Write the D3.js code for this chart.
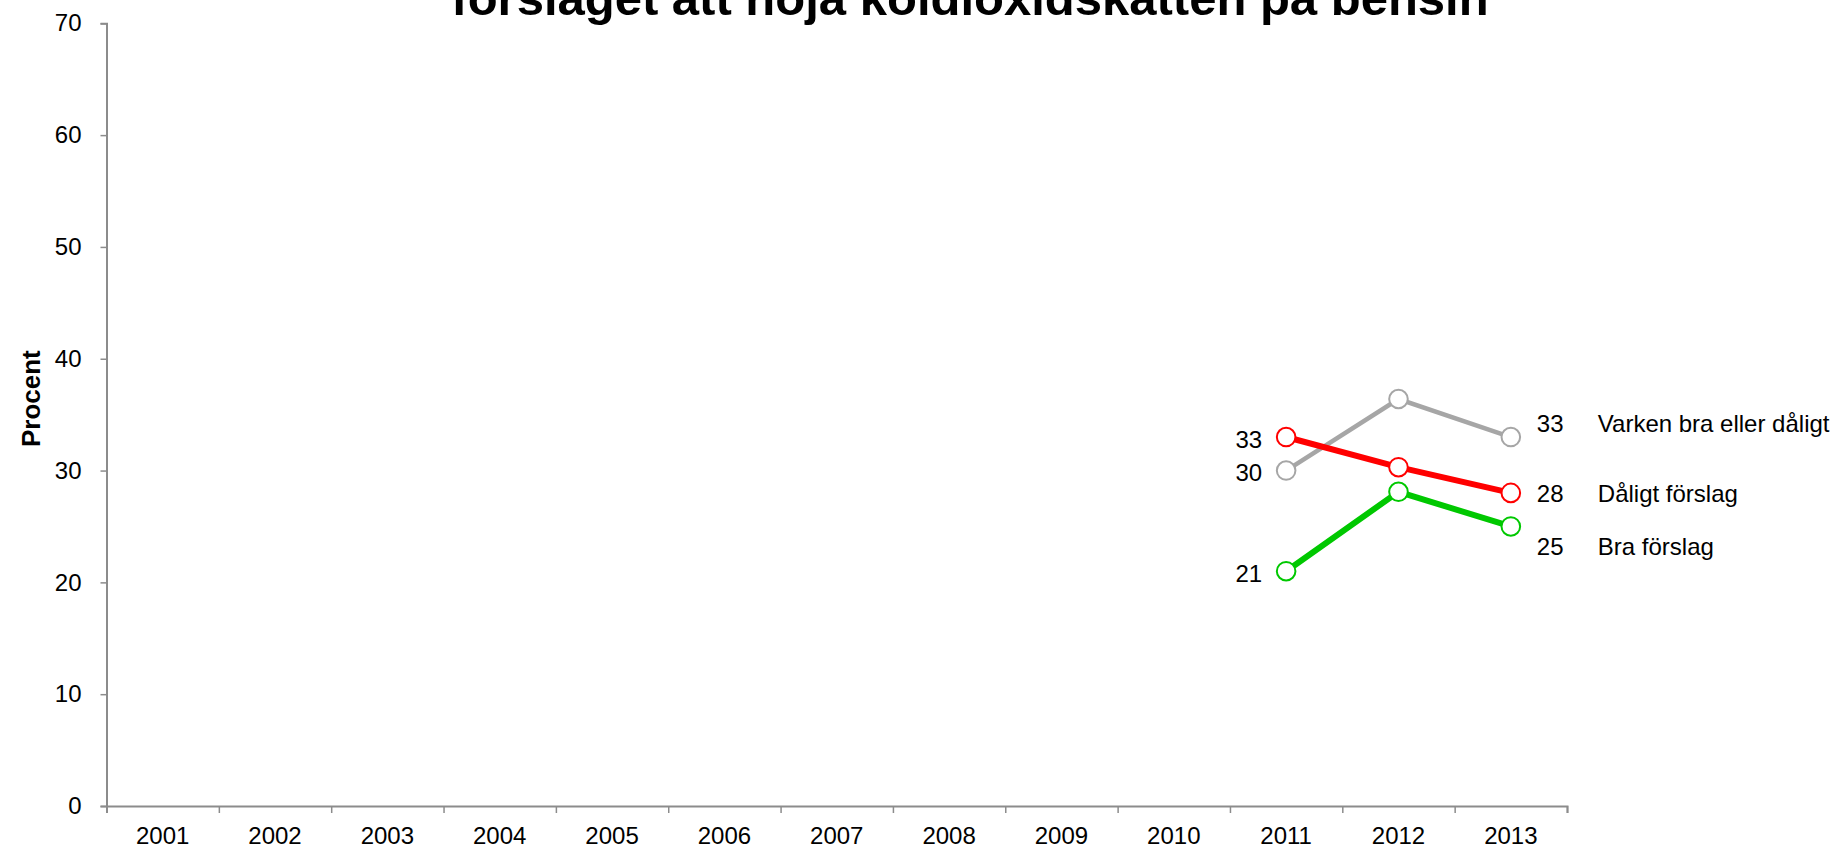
<!DOCTYPE html>
<html>
<head>
<meta charset="utf-8">
<script src="https://cdn.jsdelivr.net/npm/d3@7"></script>
<style>
  html, body { margin: 0; padding: 0; background: #fff; }
  svg { display: block; font-family: "Liberation Sans", Arial, sans-serif; }
</style>
</head>
<body>
<svg id="chart" width="1834" height="851"></svg>
<script>
// Opinion on raising the carbon-dioxide tax on petrol, 2001–2013 (percent)
const years = ["2001","2002","2003","2004","2005","2006","2007","2008","2009","2010","2011","2012","2013"];
const yTicks = [0, 10, 20, 30, 40, 50, 60, 70];

const varkenValues = [null, null, null, null, null, null, null, null, null, null, 30, 36.4, 33];
const daligtValues = [null, null, null, null, null, null, null, null, null, null, 33, 30.3, 28];
const braValues    = [null, null, null, null, null, null, null, null, null, null, 21, 28.1, 25];

const seriesNames  = ["Varken bra eller dåligt", "Dåligt förslag", "Bra förslag"];
const seriesColors = ["#A6A6A6", "#FF0000", "#00C800"];
const titleText = "förslaget att höja koldioxidskatten på bensin";
const yLabel = "Procent";

const series = [
  { name: seriesNames[0], values: varkenValues, color: seriesColors[0], width: 4.5, endDy: -14 },
  { name: seriesNames[1], values: daligtValues, color: seriesColors[1], width: 6,   endDy: 1 },
  { name: seriesNames[2], values: braValues,    color: seriesColors[2], width: 6,   endDy: 20 }
];

const svg = d3.select("#chart");
const plotLeft = 106.5, plotRight = 1567, plotTop = 23.3, plotBottom = 806;

const x = d3.scaleBand().domain(years).range([plotLeft, plotRight]).padding(0);
const xEdges = d3.scaleLinear().domain([0, years.length]).range([plotLeft, plotRight]);
const y = d3.scaleLinear().domain([0, 70]).range([plotBottom, plotTop]);
const cx = yr => x(yr) + x.bandwidth() / 2;

const axisColor = "#8C8C8C";
const fontFamily = "Liberation Sans, Arial, sans-serif";
const textSize = 24;

// Y axis
const yAxis = svg.append("g")
  .attr("transform", `translate(${plotLeft},0)`)
  .call(d3.axisLeft(y).tickValues(yTicks).tickSize(6).tickPadding(19).tickFormat(d3.format("d")));
yAxis.selectAll("text").attr("font-size", textSize).attr("fill", "#000").attr("font-family", fontFamily);

// X axis: tick marks on category edges, labels centered in bands
const xAxisTicks = svg.append("g")
  .attr("transform", `translate(0,${plotBottom})`)
  .call(d3.axisBottom(xEdges).tickValues(d3.range(0, years.length + 1)).tickSize(7).tickFormat(""));
const xAxisLabels = svg.append("g")
  .attr("transform", `translate(0,${plotBottom})`)
  .call(d3.axisBottom(x).tickSize(0).tickPadding(21));
xAxisLabels.select(".domain").remove();
xAxisLabels.selectAll("text").attr("font-size", textSize).attr("fill", "#000").attr("font-family", fontFamily);

[yAxis, xAxisTicks].forEach(g => {
  g.select(".domain").attr("stroke", axisColor).attr("stroke-width", 2);
  g.selectAll(".tick line").attr("stroke", axisColor).attr("stroke-width", 1.5);
});

// Y axis title
svg.append("text")
  .attr("transform", `translate(31,${(plotTop + plotBottom) / 2 - 16}) rotate(-90)`)
  .attr("text-anchor", "middle")
  .attr("dominant-baseline", "central")
  .attr("font-size", 26)
  .attr("font-weight", "bold")
  .text(yLabel);

// Chart title (second line, partly above the frame)
svg.append("text")
  .attr("x", 970)
  .attr("y", 15)
  .attr("text-anchor", "middle")
  .attr("font-size", 49)
  .attr("font-weight", "bold")
  .text(titleText);

// Lines and markers
const line = d3.line()
  .defined(d => d.v != null)
  .x(d => cx(d.year))
  .y(d => y(d.v));

series.forEach(s => {
  const pts = years.map((yr, i) => ({ year: yr, v: s.values[i] }));
  const valid = pts.filter(d => d.v != null);
  const g = svg.append("g");
  g.append("path")
    .datum(pts)
    .attr("fill", "none")
    .attr("stroke", s.color)
    .attr("stroke-width", s.width)
    .attr("d", line);
  g.selectAll("circle")
    .data(valid)
    .join("circle")
    .attr("cx", d => cx(d.year))
    .attr("cy", d => y(d.v))
    .attr("r", 9.3)
    .attr("fill", "#fff")
    .attr("stroke", s.color)
    .attr("stroke-width", 2);
  s.valid = valid;
});

// Value labels: first year on the left, last year on the right with series name
const fmt = d3.format("d");
series.forEach(s => {
  const first = s.valid[0];
  const last = s.valid[s.valid.length - 1];
  svg.append("text")
    .attr("x", cx(first.year) - 24)
    .attr("y", y(first.v) + 2)
    .attr("text-anchor", "end")
    .attr("dominant-baseline", "central")
    .attr("font-size", textSize)
    .text(fmt(first.v));
  svg.append("text")
    .attr("x", cx(last.year) + 26)
    .attr("y", y(last.v) + s.endDy)
    .attr("dominant-baseline", "central")
    .attr("font-size", textSize)
    .text(fmt(last.v));
  svg.append("text")
    .attr("x", cx(last.year) + 87)
    .attr("y", y(last.v) + s.endDy)
    .attr("dominant-baseline", "central")
    .attr("font-size", textSize)
    .text(s.name);
});
</script>
</body>
</html>
